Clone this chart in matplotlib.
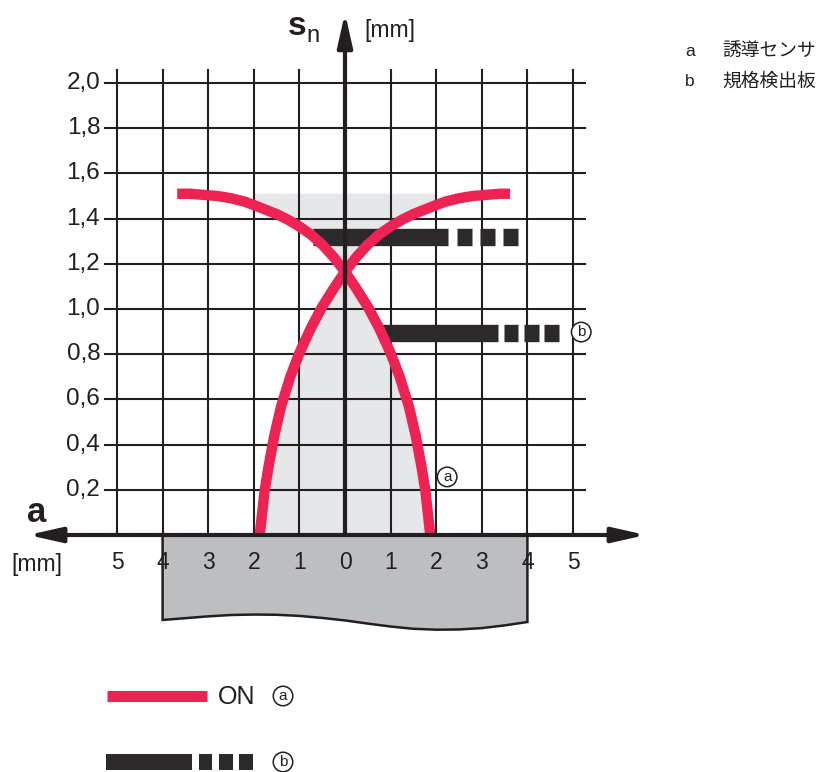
import matplotlib.pyplot as plt
import numpy as np
from matplotlib.patches import Polygon

plt.rcParams['font.family'] = ['Liberation Sans', 'Noto Sans CJK JP']

DARK = '#231F20'
RED = '#EC2353'

# 動作曲線 (a): 左上から右下へ下がる曲線
curve_l_x = [-3.68, -3.4, -3.1, -2.8, -2.5, -2.2, -2.0, -1.75, -1.5, -1.25, -1.0,
             -0.75, -0.5, -0.25, 0.0, 0.25, 0.5, 0.75, 1.0, 1.2, 1.4, 1.55, 1.67,
             1.76, 1.87]
curve_l_y = [1.51, 1.51, 1.505, 1.50, 1.49, 1.475, 1.46, 1.44, 1.42, 1.395, 1.365,
             1.33, 1.285, 1.23, 1.165, 1.09, 1.01, 0.915, 0.805, 0.70, 0.57, 0.44, 0.31,
             0.20, 0.0]
# 動作曲線 (a): 左下から右上へ上がる曲線
curve_r_x = [-1.87, -1.76, -1.67, -1.55, -1.4, -1.2, -1.0, -0.75, -0.5, -0.25, 0.0,
             0.25, 0.5, 0.75, 1.0, 1.25, 1.5, 1.75, 2.0, 2.2, 2.5, 2.8, 3.1, 3.4, 3.62]
curve_r_y = [0.0, 0.20, 0.31, 0.44, 0.57, 0.70, 0.805, 0.915, 1.01, 1.09, 1.165,
             1.23, 1.285, 1.33, 1.365, 1.395, 1.42, 1.44, 1.46, 1.475, 1.49, 1.50,
             1.505, 1.51, 1.51]

# 規格検出板 (b): 実線部と角ブロック
bar_heights = [1.32, 0.895]
bar_solid = [(-0.70, 2.25), (0.80, 3.35)]
bar_blocks = [[(2.45, 2.78), (2.96, 3.30), (3.47, 3.80)],
              [(3.48, 3.80), (3.93, 4.25), (4.37, 4.69)]]

# 検出板の下端（波形）
plate_x = [-4, -3.5, -3, -2.5, -2, -1.5, -1, -0.5, 0, 0.5, 1, 1.5, 2, 2.5, 3, 3.5, 4]
plate_y = [-0.376, -0.368, -0.360, -0.354, -0.352, -0.353, -0.358, -0.367, -0.378,
           -0.392, -0.405, -0.415, -0.419, -0.418, -0.412, -0.400, -0.385]

x_ticks = [-5, -4, -3, -2, -1, 0, 1, 2, 3, 4, 5]
x_tick_labels = ['5', '4', '3', '2', '1', '0', '1', '2', '3', '4', '5']
y_ticks = [0.2, 0.4, 0.6, 0.8, 1.0, 1.2, 1.4, 1.6, 1.8, 2.0]
y_tick_labels = ['0,2', '0,4', '0,6', '0,8', '1,0', '1,2', '1,4', '1,6', '1,8', '2,0']
shade_top = 1.51
shade_half = 2.0

# ピクセル -> データ座標 (x: 45.6 px/mm, y: 226 px/mm)
X0, Y0, SX, SY = 345, 535, 45.6, 226


def px(x, y):
    return (x - X0) / SX, (Y0 - y) / SY


fig = plt.figure(figsize=(8.17, 7.72), dpi=100)
ax = fig.add_axes([0, 0, 1, 1])
ax.set_xlim(-X0 / SX, (817 - X0) / SX)
ax.set_ylim(-(772 - Y0) / SY, Y0 / SY)
ax.axis('off')

lx, ly = np.array(curve_l_x), np.array(curve_l_y)
rx, ry = np.array(curve_r_x), np.array(curve_r_y)

# 下側の塗り（曲線の交点より下）
lower = list(zip(rx[rx <= 0], ry[rx <= 0])) + list(zip(lx[lx > 0], ly[lx > 0]))
ax.add_patch(Polygon(lower, closed=True, fc='#E6E7E8', ec='none', zorder=1))
# 上側の塗り（交点より上）
m1 = (lx >= -shade_half) & (lx <= 0)
m2 = (rx > 0) & (rx <= shade_half)
upper = [(-shade_half, shade_top)] + list(zip(lx[m1], ly[m1])) + \
    list(zip(rx[m2], ry[m2])) + [(shade_half, shade_top)]
ax.add_patch(Polygon(upper, closed=True, fc='#E6E7E8', ec='none', zorder=1))

# グリッド
for x in x_ticks:
    if x != 0:
        ax.plot([x, x], [0, 2.058], color=DARK, lw=1.5, zorder=2)
for y in y_ticks:
    ax.plot([-5.26, 5.26], [y, y], color=DARK, lw=1.5, zorder=2)

# 検出板
plate = [(-4, 0)] + list(zip(plate_x, plate_y)) + [(4, 0)]
ax.add_patch(Polygon(plate, closed=True, fc='#BDBEC0', ec=DARK, lw=1.8, zorder=3))

# 規格検出板の線
for h, (s0, s1), blocks in zip(bar_heights, bar_solid, bar_blocks):
    ax.plot([s0, s1], [h, h], color='#2B292A', lw=12.5, solid_capstyle='butt', zorder=4)
    for b0, b1 in blocks:
        ax.plot([b0, b1], [h, h], color='#2B292A', lw=12.5, solid_capstyle='butt', zorder=4)

# 動作曲線
ax.plot(curve_l_x, curve_l_y, color=RED, lw=7.5, solid_capstyle='butt',
        solid_joinstyle='round', zorder=5)
ax.plot(curve_r_x, curve_r_y, color=RED, lw=7.5, solid_capstyle='butt',
        solid_joinstyle='round', zorder=5)

# 軸の矢印
arrow = dict(arrowstyle='-|>,head_length=2.0,head_width=0.45', mutation_scale=10,
             lw=3, color=DARK, shrinkA=0, shrinkB=0)
ax.annotate('', xy=(0, 2.31), xytext=(0, 0), arrowprops=arrow, zorder=6)
arrow2 = dict(arrow, arrowstyle='<|-|>,head_length=2.0,head_width=0.45')
ax.annotate('', xy=(6.6, 0), xytext=(-6.95, 0), arrowprops=arrow2, zorder=6)

# 目盛ラベル
for x, lab in zip(x_ticks, x_tick_labels):
    ax.text(x, -0.12, lab, ha='center', va='center', fontsize=16.5, color=DARK, zorder=7)
for y, lab in zip(y_ticks, y_tick_labels):
    ax.text(-5.37, y, lab, ha='right', va='center', fontsize=17.5, color=DARK, zorder=7)

ax.text(*px(37, 522), 'a', ha='center', va='baseline', fontsize=25,
        fontweight='bold', color=DARK)
ax.text(*px(37, 565), '[mm]', ha='center', va='center', fontsize=16.5, color=DARK)
ax.text(*px(297, 35), 's', ha='center', va='baseline', fontsize=24,
        fontweight='bold', color=DARK)
ax.text(*px(313, 42), 'n', ha='center', va='baseline', fontsize=17, color=DARK)
ax.text(*px(390, 30), '[mm]', ha='center', va='center', fontsize=16.5, color=DARK)

circ = dict(boxstyle='circle,pad=0.18', fc='white', ec=DARK, lw=1.1)
ax.text(2.24, 0.257, 'a', ha='center', va='center', fontsize=11, color=DARK, bbox=circ, zorder=7)
ax.text(5.18, 0.898, 'b', ha='center', va='center', fontsize=11, color=DARK, bbox=circ, zorder=7)

# 凡例（右上）
ax.text(*px(690, 52), 'a', ha='center', va='center', fontsize=12.5, color=DARK)
ax.text(*px(722, 52), '誘導センサ', ha='left', va='center', fontsize=13.5, color=DARK)
ax.text(*px(690, 82), 'b', ha='center', va='center', fontsize=12.5, color=DARK)
ax.text(*px(722, 82), '規格検出板', ha='left', va='center', fontsize=13.5, color=DARK)

# 凡例（下）
ax.plot([px(107, 0)[0], px(207, 0)[0]], [px(0, 696)[1]] * 2, color=RED, lw=8,
        solid_capstyle='butt')
ax.text(*px(218, 697), 'ON', ha='left', va='center', fontsize=18, color=DARK)
ax.text(*px(283, 696), 'a', ha='center', va='center', fontsize=11, color=DARK, bbox=circ)
for p0, p1 in [(106, 192), (199, 212), (219, 233), (239, 253)]:
    ax.plot([px(p0, 0)[0], px(p1, 0)[0]], [px(0, 762)[1]] * 2, color='#2B292A',
            lw=11.5, solid_capstyle='butt')
ax.text(*px(283, 762), 'b', ha='center', va='center', fontsize=11, color=DARK, bbox=circ)

fig.savefig('out.png', dpi=100)
